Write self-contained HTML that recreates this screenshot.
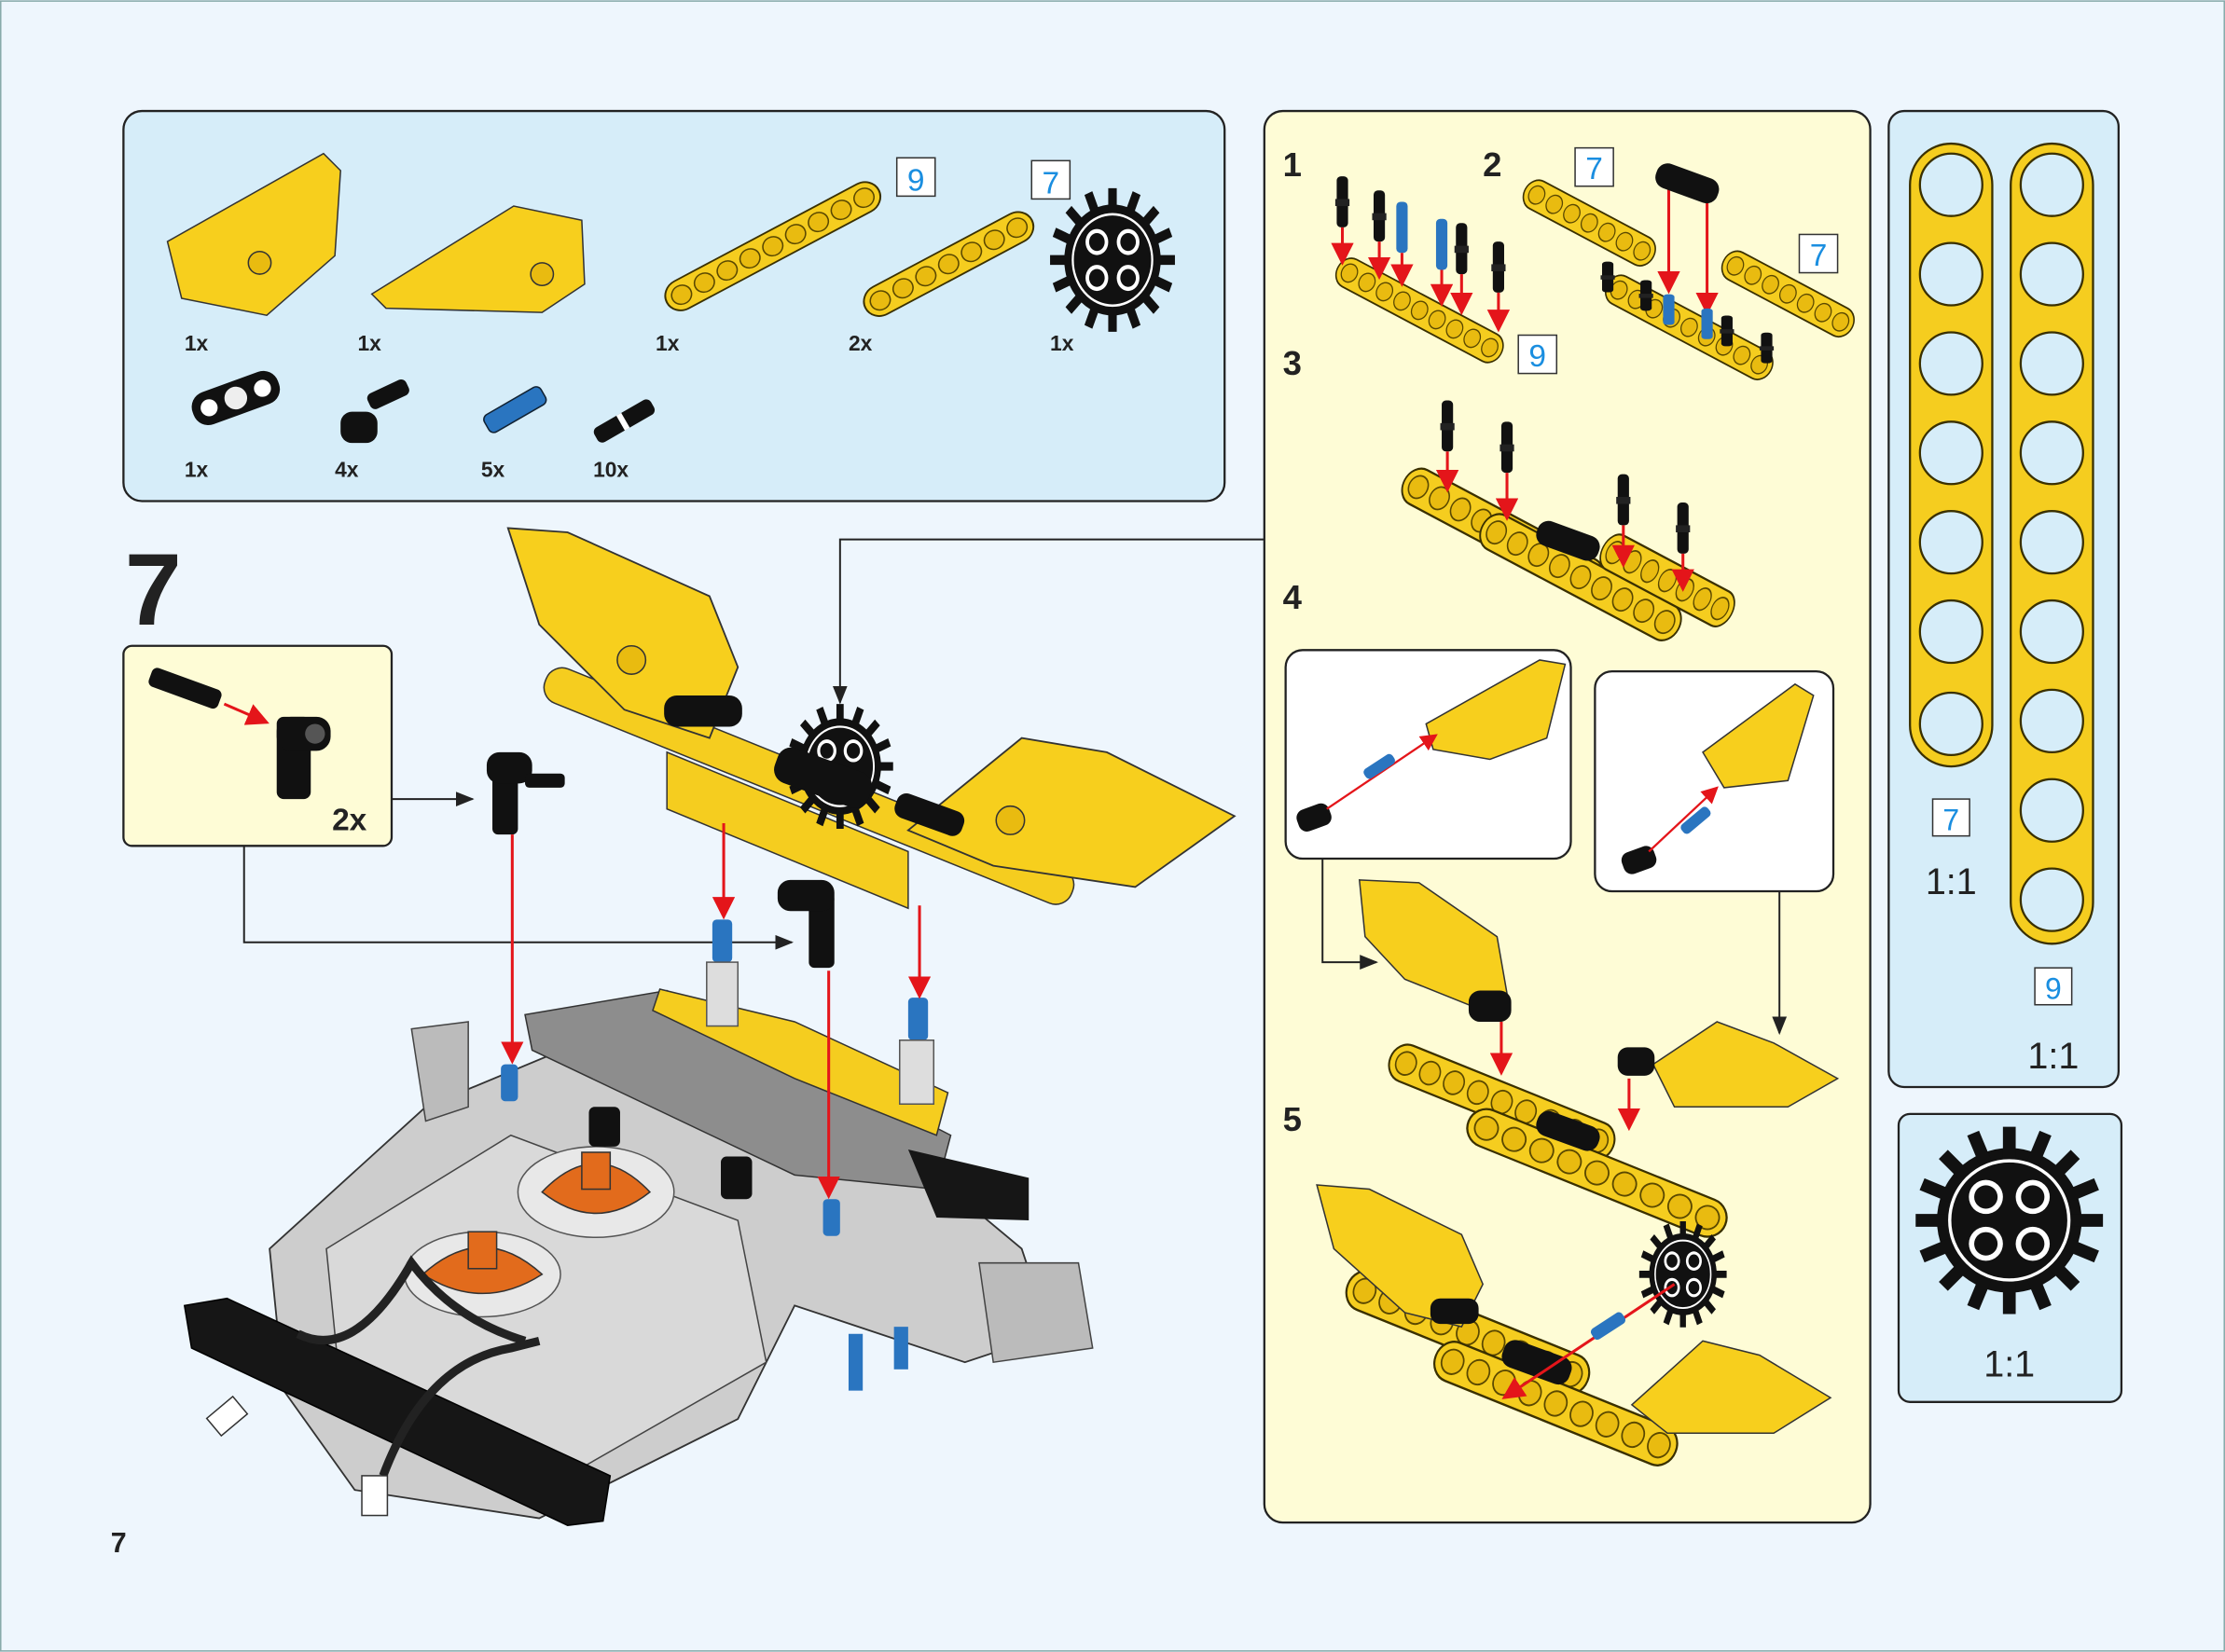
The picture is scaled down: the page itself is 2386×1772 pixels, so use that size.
<!DOCTYPE html>
<html><head><meta charset="utf-8"><style>
html,body{margin:0;padding:0;background:#eef6fd}
svg{display:block}
text{font-family:"Liberation Sans",sans-serif}
</style></head><body>
<svg width="2386" height="1772" viewBox="0 0 1568 1164" xmlns="http://www.w3.org/2000/svg">
<defs>
<g id="b9"><rect x="0" y="-9" width="130" height="18" rx="9" fill="#f5cd1f" stroke="#3a3000" stroke-width="1"/>
<g fill="#e9bb10" stroke="#5a4800" stroke-width="0.8"><circle cx="9" cy="0" r="5.5"/><circle cx="23" cy="0" r="5.5"/><circle cx="37" cy="0" r="5.5"/><circle cx="51" cy="0" r="5.5"/><circle cx="65" cy="0" r="5.5"/><circle cx="79" cy="0" r="5.5"/><circle cx="93" cy="0" r="5.5"/><circle cx="107" cy="0" r="5.5"/><circle cx="121" cy="0" r="5.5"/></g></g>
<g id="b7"><rect x="0" y="-9" width="102" height="18" rx="9" fill="#f5cd1f" stroke="#3a3000" stroke-width="1"/>
<g fill="#e9bb10" stroke="#5a4800" stroke-width="0.8"><circle cx="9" cy="0" r="5.5"/><circle cx="23" cy="0" r="5.5"/><circle cx="37" cy="0" r="5.5"/><circle cx="51" cy="0" r="5.5"/><circle cx="65" cy="0" r="5.5"/><circle cx="79" cy="0" r="5.5"/><circle cx="93" cy="0" r="5.5"/></g></g>
<g id="pin"><rect x="-4" y="-18" width="8" height="36" rx="3" fill="#111"/><rect x="-5" y="-2" width="10" height="5" fill="#222"/></g>
<g id="bpin"><rect x="-4" y="-18" width="8" height="36" rx="3" fill="#2a75c0"/></g>
<g id="wing"><path d="M0,40 L60,-20 L110,-10 L110,35 L80,55 L20,60 Z" fill="#f7cf1d" stroke="#3a3000" stroke-width="1.2"/><circle cx="75" cy="30" r="8" fill="#e9bb10" stroke="#3a3000"/></g>
<marker id="ar" markerWidth="8" markerHeight="8" refX="7" refY="4" orient="auto"><path d="M0,0 L8,4 L0,8 Z" fill="#e4151a"/></marker>
<marker id="ak" markerWidth="10" markerHeight="8" refX="9" refY="4" orient="auto"><path d="M0,0 L10,4 L0,8 Z" fill="#222"/></marker>
<g id="gear"><circle r="34" fill="#111"/><g stroke="#111" stroke-width="6">
<line x1="0" y1="-44" x2="0" y2="44"/><line x1="-44" y1="0" x2="44" y2="0"/><line x1="-31" y1="-31" x2="31" y2="31"/><line x1="-31" y1="31" x2="31" y2="-31"/>
<line x1="-17" y1="-41" x2="17" y2="41"/><line x1="-41" y1="-17" x2="41" y2="17"/><line x1="-17" y1="41" x2="17" y2="-41"/><line x1="-41" y1="17" x2="41" y2="-17"/></g>
<circle r="28" fill="#111" stroke="#fff" stroke-width="1.5"/>
<g fill="#fff"><circle cx="-11" cy="-11" r="8"/><circle cx="11" cy="-11" r="8"/><circle cx="-11" cy="11" r="8"/><circle cx="11" cy="11" r="8"/></g>
<g fill="#111"><circle cx="-11" cy="-11" r="5.5"/><circle cx="11" cy="-11" r="5.5"/><circle cx="-11" cy="11" r="5.5"/><circle cx="11" cy="11" r="5.5"/></g></g>
</defs>
<rect x="0.5" y="0.5" width="1567" height="1163" fill="#eef6fd" stroke="#8aa" stroke-width="1"/>

<!-- parts panel -->
<rect x="87" y="78" width="776" height="275" rx="13" fill="#d6edf9" stroke="#222" stroke-width="1.5"/>
<g transform="translate(118,150)"><path d="M0,20 L110,-42 L122,-30 L118,30 L70,72 L10,60 Z" fill="#f7cf1d" stroke="#333"/><circle cx="65" cy="35" r="8" fill="#e9bb10" stroke="#333"/></g>
<g transform="translate(262,165)"><path d="M0,42 L100,-20 L148,-10 L150,35 L120,55 L10,52 Z" fill="#f7cf1d" stroke="#333"/><circle cx="120" cy="28" r="8" fill="#e9bb10" stroke="#333"/></g>
<use href="#b9" transform="translate(470,213) rotate(-28) scale(1.3,1.2)"/>
<use href="#b7" transform="translate(610,217) rotate(-28) scale(1.3,1.2)"/>
<use href="#gear" transform="translate(784,183) scale(1,1.15)"/>
<rect x="632" y="111" width="27" height="27" fill="#fff" stroke="#333"/><text x="645.5" y="134" font-size="22" fill="#1a8ee0" text-anchor="middle">9</text>
<rect x="727" y="113" width="27" height="27" fill="#fff" stroke="#333"/><text x="740.5" y="136" font-size="22" fill="#1a8ee0" text-anchor="middle">7</text>
<g font-size="15" font-weight="bold" fill="#222"><text x="130" y="247">1x</text><text x="252" y="247">1x</text><text x="462" y="247">1x</text><text x="598" y="247">2x</text><text x="740" y="247">1x</text>
<text x="130" y="336">1x</text><text x="236" y="336">4x</text><text x="339" y="336">5x</text><text x="418" y="336">10x</text></g>
<g transform="translate(132,280) rotate(-20)"><rect x="0" y="0" width="64" height="24" rx="11" fill="#111"/><circle cx="12" cy="12" r="6" fill="#fff"/><circle cx="52" cy="12" r="6" fill="#fff"/><circle cx="32" cy="12" r="8" fill="#eee"/></g>
<g transform="translate(240,290)"><rect x="0" y="0" width="26" height="22" rx="8" fill="#111"/><rect x="20" y="-12" width="30" height="12" rx="4" fill="#111" transform="rotate(-25 20 -6)"/></g>
<g transform="translate(343,300) rotate(-30)"><rect x="0" y="-7" width="46" height="14" rx="4" fill="#2a75c0" stroke="#123"/></g>
<g transform="translate(420,308) rotate(-30)"><rect x="0" y="-6" width="46" height="12" rx="4" fill="#111"/><rect x="20" y="-6" width="4" height="12" fill="#fff"/></g>

<!-- big step number -->
<text x="88" y="440" font-size="72" font-weight="bold" fill="#222">7</text>
<text x="78" y="1094" font-size="20" font-weight="bold" fill="#222">7</text>

<!-- sub-step box -->
<rect x="87" y="455" width="189" height="141" rx="6" fill="#fefcd6" stroke="#222" stroke-width="1.5"/>
<g transform="translate(106,476) rotate(20)"><rect x="0" y="-7" width="52" height="14" rx="4" fill="#111"/></g>
<line x1="158" y1="496" x2="188" y2="509" stroke="#e4151a" stroke-width="2" marker-end="url(#ar)"/>
<rect x="195" y="505" width="24" height="58" rx="5" fill="#111"/><rect x="195" y="505" width="38" height="24" rx="10" fill="#111"/><circle cx="222" cy="517" r="7" fill="#555"/>
<text x="234" y="585" font-size="22" font-weight="bold" fill="#222">2x</text>
<line x1="276" y1="563" x2="333" y2="563" stroke="#222" stroke-width="1.3" marker-end="url(#ak)"/>
<polyline points="172,596 172,664 558,664" fill="none" stroke="#222" stroke-width="1.3" marker-end="url(#ak)"/>
<!-- angle connectors -->
<g><rect x="347" y="538" width="18" height="50" rx="4" fill="#111"/><rect x="343" y="530" width="32" height="22" rx="9" fill="#111"/><rect x="370" y="545" width="28" height="10" rx="3" fill="#111"/></g>
<g><rect x="570" y="630" width="18" height="52" rx="4" fill="#111"/><rect x="548" y="620" width="40" height="22" rx="9" fill="#111"/></g>

<!-- main gray assembly -->
<path d="M190,880 L300,780 L420,730 L560,800 L660,830 L720,880 L740,940 L680,960 L560,920 L520,1000 L380,1070 L250,1050 L200,980 Z" fill="#cdcdcd" stroke="#333" stroke-width="1.2"/>
<path d="M230,880 L360,800 L520,860 L540,960 L400,1040 L240,980 Z" fill="#d9d9d9" stroke="#444"/>
<ellipse cx="420" cy="840" rx="55" ry="32" fill="#e8e8e8" stroke="#555"/>
<path d="M382,840 Q420,800 458,840 Q420,870 382,840Z" fill="#e26b1c" stroke="#333"/>
<rect x="410" y="812" width="20" height="26" fill="#e26b1c" stroke="#333"/>
<ellipse cx="340" cy="898" rx="55" ry="30" fill="#e8e8e8" stroke="#555"/>
<path d="M298,898 Q340,860 382,898 Q340,925 298,898Z" fill="#e26b1c" stroke="#333"/>
<rect x="330" y="868" width="20" height="26" fill="#e26b1c" stroke="#333"/>
<path d="M370,715 L470,698 L670,800 L660,838 L560,828 L375,740 Z" fill="#8d8d8d" stroke="#333"/>
<path d="M465,697 L560,720 L668,770 L660,800 L560,760 L460,712 Z" fill="#f5cd1f" stroke="#333"/>
<path d="M130,920 L160,915 L430,1040 L425,1072 L400,1075 L135,950 Z" fill="#161616" stroke="#000"/>
<path d="M640,810 L725,830 L725,860 L660,858 Z" fill="#161616"/>
<path d="M290,725 L330,720 L330,780 L300,790 Z" fill="#bbb" stroke="#444"/>
<path d="M690,890 L760,890 L770,950 L700,960 Z" fill="#bbb" stroke="#444"/>
<path d="M210,940 Q250,960 290,890 Q320,930 370,945" fill="none" stroke="#222" stroke-width="6"/>
<path d="M270,1040 Q300,960 360,950 L380,945" fill="none" stroke="#222" stroke-width="6"/>
<rect x="148" y="990" width="24" height="16" fill="#fff" stroke="#333" transform="rotate(-40 160 998)"/>
<rect x="255" y="1040" width="18" height="28" fill="#fff" stroke="#333"/>
<rect x="415" y="780" width="22" height="28" rx="4" fill="#111"/>
<rect x="508" y="815" width="22" height="30" rx="4" fill="#111"/>
<rect x="353" y="750" width="12" height="26" rx="3" fill="#2a75c0"/>
<rect x="580" y="845" width="12" height="26" rx="3" fill="#2a75c0"/>
<rect x="502" y="648" width="14" height="30" rx="3" fill="#2a75c0"/><rect x="498" y="678" width="22" height="45" fill="#ddd" stroke="#555"/>
<rect x="640" y="703" width="14" height="30" rx="3" fill="#2a75c0"/><rect x="634" y="733" width="24" height="45" fill="#ddd" stroke="#555"/>
<rect x="598" y="940" width="10" height="40" fill="#2a75c0"/><rect x="630" y="935" width="10" height="30" fill="#2a75c0"/>

<!-- upper assembly -->
<g transform="translate(385,478) rotate(22)"><rect x="0" y="-12" width="400" height="26" rx="12" fill="#f5cd1f" stroke="#333"/></g>
<path d="M470,530 L640,600 L640,640 L470,570 Z" fill="#f5cd1f" stroke="#333"/>
<path d="M358,372 L400,375 L500,420 L520,470 L500,520 L440,500 L380,440 Z" fill="#f7cf1d" stroke="#333" stroke-width="1.2"/>
<circle cx="445" cy="465" r="10" fill="#e9bb10" stroke="#333"/>
<path d="M640,585 L720,520 L780,530 L870,575 L800,625 L700,610 Z" fill="#f7cf1d" stroke="#333" stroke-width="1.2"/>
<circle cx="712" cy="578" r="10" fill="#e9bb10" stroke="#333"/>
<use href="#gear" transform="translate(592,540) scale(0.85,1)"/>
<rect x="468" y="490" width="55" height="22" rx="9" fill="#111"/>
<rect x="545" y="535" width="70" height="26" rx="10" fill="#111" transform="rotate(20 580 548)"/>
<rect x="630" y="565" width="50" height="18" rx="7" fill="#111" transform="rotate(20 655 574)"/>
<polyline points="891,380 592,380 592,495" fill="none" stroke="#222" stroke-width="1.3" marker-end="url(#ak)"/>
<g stroke="#e4151a" stroke-width="2" fill="none">
<line x1="361" y1="588" x2="361" y2="748" marker-end="url(#ar)"/>
<line x1="510" y1="580" x2="510" y2="646" marker-end="url(#ar)"/>
<line x1="584" y1="684" x2="584" y2="843" marker-end="url(#ar)"/>
<line x1="648" y1="638" x2="648" y2="702" marker-end="url(#ar)"/></g>

<!-- right yellow panel -->
<rect x="891" y="78" width="427" height="995" rx="13" fill="#fefcd6" stroke="#222" stroke-width="1.5"/>
<g font-size="24" font-weight="bold" fill="#222"><text x="904" y="124">1</text><text x="1045" y="124">2</text><text x="904" y="264">3</text><text x="904" y="429">4</text><text x="904" y="797">5</text></g>
<use href="#b9" transform="translate(943,188) rotate(28) scale(1,1.2)"/>
<use href="#b7" transform="translate(1075,133) rotate(28) scale(1,1.2)"/>
<use href="#b9" transform="translate(1133,200) rotate(28) scale(1,1.2)"/>
<use href="#b7" transform="translate(1215,183) rotate(28) scale(1,1.2)"/>
<rect x="1070" y="236" width="27" height="27" fill="#fff" stroke="#333"/><text x="1083.5" y="258" font-size="22" fill="#1a8ee0" text-anchor="middle">9</text>
<rect x="1110" y="104" width="27" height="27" fill="#fff" stroke="#333"/><text x="1123.5" y="126" font-size="22" fill="#1a8ee0" text-anchor="middle">7</text>
<rect x="1268" y="165" width="27" height="27" fill="#fff" stroke="#333"/><text x="1281.5" y="187" font-size="22" fill="#1a8ee0" text-anchor="middle">7</text>
<use href="#pin" transform="translate(946,142)"/><use href="#pin" transform="translate(972,152)"/><use href="#bpin" transform="translate(988,160)"/><use href="#bpin" transform="translate(1016,172)"/><use href="#pin" transform="translate(1030,175)"/><use href="#pin" transform="translate(1056,188)"/>
<g stroke="#e4151a" stroke-width="2"><line x1="946" y1="160" x2="946" y2="185" marker-end="url(#ar)"/><line x1="972" y1="170" x2="972" y2="195" marker-end="url(#ar)"/><line x1="988" y1="178" x2="988" y2="200" marker-end="url(#ar)"/><line x1="1016" y1="190" x2="1016" y2="214" marker-end="url(#ar)"/><line x1="1030" y1="193" x2="1030" y2="220" marker-end="url(#ar)"/><line x1="1056" y1="206" x2="1056" y2="232" marker-end="url(#ar)"/>
<line x1="1176" y1="124" x2="1176" y2="205" marker-end="url(#ar)"/><line x1="1203" y1="128" x2="1203" y2="220" marker-end="url(#ar)"/></g>
<rect x="1166" y="120" width="46" height="18" rx="8" fill="#111" transform="rotate(20 1189 129)"/>
<use href="#pin" transform="translate(1133,195) scale(1,0.6)"/><use href="#pin" transform="translate(1160,208) scale(1,0.6)"/><use href="#bpin" transform="translate(1176,218) scale(1,0.6)"/><use href="#bpin" transform="translate(1203,228) scale(1,0.6)"/><use href="#pin" transform="translate(1217,233) scale(1,0.6)"/><use href="#pin" transform="translate(1245,245) scale(1,0.6)"/>
<!-- step 3 -->
<use href="#b9" transform="translate(990,338) rotate(28) scale(1.2,1.5)"/>
<use href="#b9" transform="translate(1045,370) rotate(28) scale(1.2,1.5)"/>
<use href="#b7" transform="translate(1130,385) rotate(28) scale(1,1.5)"/>
<rect x="1082" y="372" width="46" height="18" rx="8" fill="#111" transform="rotate(20 1105 381)"/>
<use href="#pin" transform="translate(1020,300)"/><use href="#pin" transform="translate(1062,315)"/><use href="#pin" transform="translate(1144,352)"/><use href="#pin" transform="translate(1186,372)"/>
<g stroke="#e4151a" stroke-width="2"><line x1="1020" y1="318" x2="1020" y2="345" marker-end="url(#ar)"/><line x1="1062" y1="333" x2="1062" y2="365" marker-end="url(#ar)"/><line x1="1144" y1="370" x2="1144" y2="398" marker-end="url(#ar)"/><line x1="1186" y1="390" x2="1186" y2="415" marker-end="url(#ar)"/></g>
<!-- step 4 insets -->
<rect x="906" y="458" width="201" height="147" rx="12" fill="#fff" stroke="#222" stroke-width="1.5"/>
<rect x="1124" y="473" width="168" height="155" rx="12" fill="#fff" stroke="#222" stroke-width="1.5"/>
<path d="M1005,510 L1085,465 L1103,468 L1090,520 L1050,535 L1010,528 Z" fill="#f7cf1d" stroke="#333"/>
<path d="M1200,530 L1265,482 L1278,490 L1260,550 L1215,555 Z" fill="#f7cf1d" stroke="#333"/>
<rect x="914" y="568" width="24" height="16" rx="6" fill="#111" transform="rotate(-20 926 576)"/>
<rect x="1143" y="598" width="24" height="16" rx="6" fill="#111" transform="rotate(-20 1155 606)"/>
<line x1="935" y1="570" x2="1012" y2="518" stroke="#e4151a" stroke-width="1.5" marker-end="url(#ar)"/>
<line x1="1162" y1="600" x2="1210" y2="555" stroke="#e4151a" stroke-width="1.5" marker-end="url(#ar)"/>
<rect x="960" y="536" width="24" height="8" rx="3" fill="#2a75c0" transform="rotate(-33 972 540)"/>
<rect x="1183" y="574" width="24" height="8" rx="3" fill="#2a75c0" transform="rotate(-40 1195 578)"/>
<polyline points="932,605 932,678 970,678" fill="none" stroke="#222" stroke-width="1.3" marker-end="url(#ak)"/>
<line x1="1254" y1="628" x2="1254" y2="728" stroke="#222" stroke-width="1.3" marker-end="url(#ak)"/>
<path d="M958,620 L1000,622 L1055,660 L1062,700 L1040,710 L990,690 L962,660 Z" fill="#f7cf1d" stroke="#333"/>
<rect x="1035" y="698" width="30" height="22" rx="8" fill="#111"/>
<path d="M1165,750 L1210,720 L1250,735 L1295,760 L1260,780 L1180,780 Z" fill="#f7cf1d" stroke="#333"/>
<rect x="1140" y="738" width="26" height="20" rx="7" fill="#111"/>
<!-- step 4 beam -->
<use href="#b9" transform="translate(980,745) rotate(22) scale(1.3,1.5)"/>
<use href="#b9" transform="translate(1035,790) rotate(22) scale(1.5,1.5)"/>
<rect x="1082" y="788" width="46" height="18" rx="8" fill="#111" transform="rotate(20 1105 797)"/>
<g stroke="#e4151a" stroke-width="2"><line x1="1058" y1="720" x2="1058" y2="756" marker-end="url(#ar)"/><line x1="1148" y1="760" x2="1148" y2="795" marker-end="url(#ar)"/></g>
<!-- step 5 -->
<use href="#b9" transform="translate(950,905) rotate(22) scale(1.4,1.6)"/>
<use href="#b9" transform="translate(1012,955) rotate(22) scale(1.4,1.6)"/>
<path d="M928,835 L965,838 L1030,870 L1045,905 L1030,935 L990,925 L940,880 Z" fill="#f7cf1d" stroke="#333"/>
<path d="M1150,990 L1200,945 L1240,955 L1290,985 L1250,1010 L1175,1010 Z" fill="#f7cf1d" stroke="#333"/>
<use href="#gear" transform="translate(1186,898) scale(0.7,0.85)"/>
<rect x="1058" y="950" width="50" height="20" rx="8" fill="#111" transform="rotate(20 1083 960)"/>
<rect x="1008" y="915" width="34" height="18" rx="7" fill="#111"/>
<line x1="1180" y1="905" x2="1060" y2="985" stroke="#e4151a" stroke-width="2" marker-end="url(#ar)"/>
<rect x="1120" y="930" width="26" height="9" rx="3" fill="#2a75c0" transform="rotate(-33 1133 934)"/>

<!-- rulers panel -->
<rect x="1331" y="78" width="162" height="688" rx="11" fill="#d6edf9" stroke="#222" stroke-width="1.5"/>
<rect x="1346" y="101" width="58" height="439" rx="29" fill="#f5cd1f" stroke="#3a3000" stroke-width="1.5"/>
<rect x="1417" y="101" width="58" height="564" rx="29" fill="#f5cd1f" stroke="#3a3000" stroke-width="1.5"/>
<g fill="#d6edf9" stroke="#3a3000" stroke-width="1.5">
<circle cx="1375" cy="130" r="22"/><circle cx="1375" cy="193" r="22"/><circle cx="1375" cy="256" r="22"/><circle cx="1375" cy="319" r="22"/><circle cx="1375" cy="382" r="22"/><circle cx="1375" cy="445" r="22"/><circle cx="1375" cy="510" r="22"/>
<circle cx="1446" cy="130" r="22"/><circle cx="1446" cy="193" r="22"/><circle cx="1446" cy="256" r="22"/><circle cx="1446" cy="319" r="22"/><circle cx="1446" cy="382" r="22"/><circle cx="1446" cy="445" r="22"/><circle cx="1446" cy="508" r="22"/><circle cx="1446" cy="571" r="22"/><circle cx="1446" cy="634" r="22"/></g>
<rect x="1362" y="563" width="26" height="26" fill="#fff" stroke="#333"/><text x="1375" y="585" font-size="21" fill="#1a8ee0" text-anchor="middle">7</text>
<rect x="1434" y="682" width="26" height="26" fill="#fff" stroke="#333"/><text x="1447" y="704" font-size="21" fill="#1a8ee0" text-anchor="middle">9</text>
<text x="1375" y="630" font-size="26" fill="#222" text-anchor="middle">1:1</text>
<text x="1447" y="753" font-size="26" fill="#222" text-anchor="middle">1:1</text>
<!-- gear panel -->
<rect x="1338" y="785" width="157" height="203" rx="8" fill="#d6edf9" stroke="#222" stroke-width="1.5"/>
<use href="#gear" transform="translate(1416,860) scale(1.5)"/>
<text x="1416" y="970" font-size="26" fill="#222" text-anchor="middle">1:1</text>
</svg>
</body></html>
